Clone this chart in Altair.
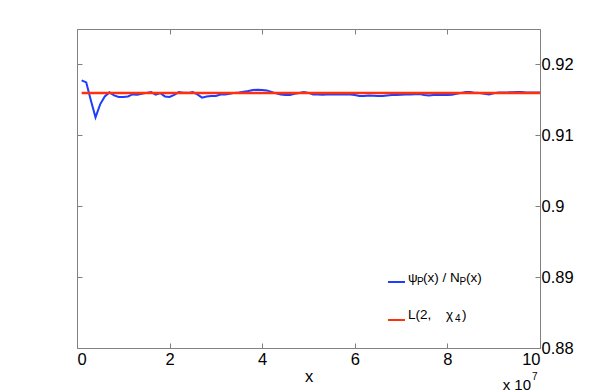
import altair as alt
import pandas as pd

# x in units of 1e7
x_vals = [i / 10 for i in range(1, 101)]
ratio_vals = [
    0.91775, 0.91746, 0.91493, 0.91254, 0.91437, 0.91549, 0.91606, 0.91563, 0.91542, 0.91542,
    0.91549, 0.91577, 0.91573, 0.91587, 0.91599, 0.91610, 0.91573, 0.91596, 0.91549, 0.91542,
    0.91570, 0.91610, 0.91601, 0.91599, 0.91610, 0.91577, 0.91531, 0.91549, 0.91556, 0.91556,
    0.91577, 0.91577, 0.91585, 0.91599, 0.91606, 0.91615, 0.91624, 0.91638, 0.91644, 0.91641,
    0.91634, 0.91613, 0.91592, 0.91577, 0.91570, 0.91568, 0.91585, 0.91596, 0.91610, 0.91599,
    0.91577, 0.91575, 0.91573, 0.91575, 0.91577, 0.91577, 0.91577, 0.91577, 0.91577, 0.91570,
    0.91556, 0.91554, 0.91563, 0.91559, 0.91554, 0.91554, 0.91563, 0.91568, 0.91570, 0.91573,
    0.91575, 0.91577, 0.91580, 0.91582, 0.91570, 0.91563, 0.91570, 0.91570, 0.91568, 0.91570,
    0.91573, 0.91585, 0.91599, 0.91610, 0.91610, 0.91599, 0.91596, 0.91585, 0.91577, 0.91592,
    0.91606, 0.91606, 0.91606, 0.91608, 0.91610, 0.91610, 0.91606, 0.91606, 0.91606, 0.91606,
]
catalan_x = [0.1, 10.0]
catalan_vals = [0.915966, 0.915966]

x_ticks = [0, 2, 4, 6, 8, 10]
y_ticks = [0.88, 0.89, 0.90, 0.91, 0.92]

BLUE = "#1f3cff"
RED = "#ff3010"
GRAY = "#808080"
FONT = "Liberation Sans"
TICK_FS = 16.5

blue_df = pd.DataFrame({"x": x_vals, "v": ratio_vals})
red_df = pd.DataFrame({"x": catalan_x, "v": catalan_vals})

xscale = alt.Scale(domain=[0, 10], nice=False, zero=False)
yscale = alt.Scale(domain=[0.88, 0.925], nice=False, zero=False)

common_axis = dict(
    domain=False, grid=False, tickSize=5, offset=-5, tickColor=GRAY, tickWidth=1,
    labelFont=FONT, labelFontSize=TICK_FS, labelColor="black",
)

blue = alt.Chart(blue_df).mark_line(color=BLUE, strokeWidth=2).encode(
    x=alt.X("x:Q", scale=xscale, axis=alt.Axis(
        orient="bottom", values=x_ticks, format="d", labelPadding=3,
        title="x", titleFont=FONT, titleFontSize=TICK_FS, titleFontWeight="normal",
        titleColor="black", titlePadding=1, **common_axis)),
    y=alt.Y("v:Q", scale=yscale, axis=alt.Axis(
        orient="right", values=y_ticks, format="~g", labelPadding=1,
        title=None, **common_axis)),
)

red = alt.Chart(red_df).mark_line(color=RED, strokeWidth=2.5).encode(
    x=alt.X("x:Q", scale=xscale, axis=alt.Axis(
        orient="top", values=x_ticks, labels=False, title=None, **common_axis)),
    y=alt.Y("v:Q", scale=yscale, axis=alt.Axis(
        orient="left", values=y_ticks, labels=False, title=None, **common_axis)),
)

one = pd.DataFrame({"a": [0]})

def txt(t, x, y, size=14, align="left", baseline="alphabetic"):
    return alt.Chart(one).mark_text(
        text=t, font=FONT, fontSize=size, color="black", align=align, baseline=baseline
    ).encode(x=alt.value(x), y=alt.value(y))

def seg(color, x1, x2, y):
    return alt.Chart(one).mark_rule(color=color, strokeWidth=2).encode(
        x=alt.value(x1), x2=alt.value(x2), y=alt.value(y))

legend_layers = [
    seg(BLUE, 311, 328, 253),
    txt("ψ", 331, 252.5, size=13.5),
    txt("P", 340, 256, size=10),
    txt("(x) / N", 346, 252.5, size=13.5),
    txt("P", 382.5, 256, size=10),
    txt("(x)", 389, 252.5, size=13.5),
    seg(RED, 311, 328, 291),
    txt("L(2,", 331, 289.5, size=13.5),
    txt("χ", 369, 289.5, size=13.5),
    txt("4", 378, 293, size=10),
    txt(")", 385, 289.5, size=13.5),
    txt("x 10", 454, 356, size=15, align="right", baseline="middle"),
    txt("7", 455, 348, size=10, baseline="middle"),
]

chart = alt.layer(blue, red, *legend_layers).resolve_axis(
    x="independent", y="independent"
).properties(
    width=463, height=319, autosize="none",
    padding={"left": 69, "top": 21, "right": 49, "bottom": 44},
).configure_view(stroke=GRAY, strokeWidth=1)

chart.save("out.html", embed_options={"renderer": "svg", "actions": False})
